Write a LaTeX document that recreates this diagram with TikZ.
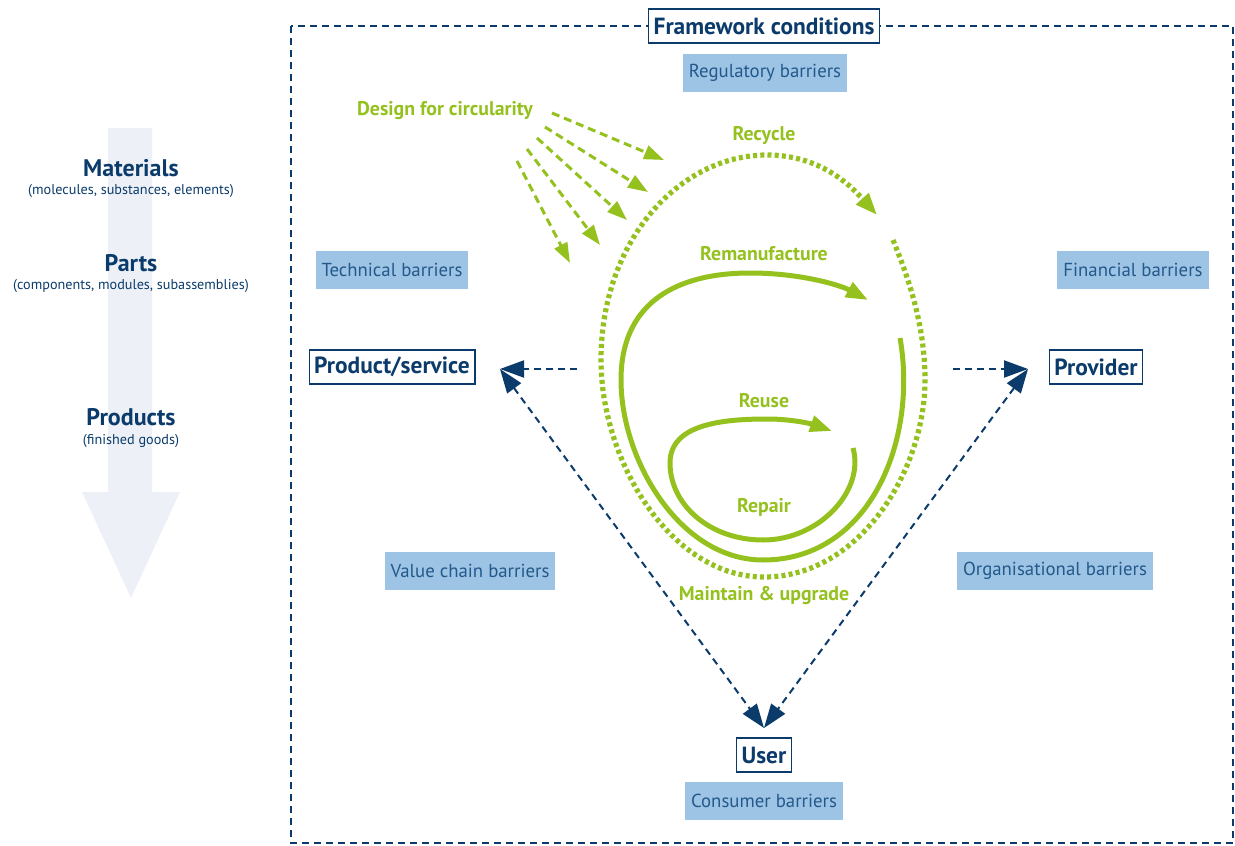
\documentclass[tikz,border=0pt]{standalone}
\usepackage{fontspec}
\setmainfont{PT Sans}
\usetikzlibrary{arrows.meta}
\definecolor{navy}{HTML}{0B3B6B}
\definecolor{barriertext}{HTML}{23598A}
\definecolor{barrierfill}{HTML}{9EC4E5}
\definecolor{leaf}{HTML}{95C11F}
\definecolor{mist}{HTML}{EDF1F7}
\tikzset{
  actor/.style={draw=navy, line width=0.7pt, fill=white, text=navy, inner xsep=2.5pt, minimum height=17pt, font=\bfseries\fontsize{11.7}{13}\selectfont},
  barrier/.style={fill=barrierfill, text=barriertext, inner xsep=3pt, minimum height=19pt, font=\fontsize{9.4}{11}\selectfont},
  level/.style={text=navy, align=center, inner sep=0pt, font=\bfseries\fontsize{12}{14}\selectfont},
  sublevel/.style={text=navy, inner sep=0pt, font=\fontsize{7.1}{8}\selectfont},
  looplabel/.style={text=leaf, inner sep=0pt, font=\bfseries\fontsize{9.9}{11}\selectfont},
  loopline/.style={draw=leaf, line width=2.5pt, -{Triangle[length=11pt,width=8pt]}},
  relation/.style={draw=navy, line width=1pt, dash pattern=on 3.5pt off 2.5pt},
  navytip/.tip={Triangle[length=12pt,width=8.5pt]},
}
\begin{document}
\begin{tikzpicture}[x=0.5pt, y=-0.5pt]
\useasboundingbox (0,0) rectangle (1235,845);

% levels arrow
\fill[mist] (108,128) -- (152,128) -- (152,492) -- (180,492) -- (131,598) -- (82,492) -- (108,492) -- cycle; % levels
\node[level] (materials) at (131,168) {Materials};
\node[sublevel] (materials-sub) at (131,191) {(molecules, substances, elements)};
\node[level] (parts) at (131,263) {Parts};
\node[sublevel] (parts-sub) at (131,286) {(components, modules, subassemblies)};
\node[level] (products) at (131,417) {Products};
\node[sublevel] (products-sub) at (131,441) {(finished goods)};

% framework
\draw[relation, line width=1.1pt] (291,26) rectangle (1233,843); % frame
\node[actor] (framework) at (764,26) {Framework conditions};

% barriers
\node[barrier] (regulatory) at (765,73) {Regulatory barriers};
\node[barrier] (technical) at (392,270) {Technical barriers};
\node[barrier] (financial) at (1133,270) {Financial barriers};
\node[barrier] (valuechain) at (470,571) {Value chain barriers};
\node[barrier] (organisational) at (1055,571) {Organisational barriers};
\node[barrier] (consumer) at (764,801) {Consumer barriers};

% actors
\node[actor] (product) at (392,367) {Product/service};
\node[actor] (provider) at (1096,367) {Provider};
\node[actor] (user) at (764,755) {User};

\coordinate (product-in) at (500,369);
\coordinate (provider-in) at (1028,369);
\coordinate (user-in) at (764,728);
\coordinate (product-out) at (577,369);
\coordinate (provider-out) at (953,369);

\draw[relation, -navytip] (product-out) -- (product-in); % to product
\draw[relation, -navytip] (provider-out) -- (provider-in); % to provider
\draw[relation, navytip-navytip] (product-in) -- (user-in); % product user
\draw[relation, navytip-navytip] (provider-in) -- (user-in); % provider user

% loops
\draw[loopline, line width=2.6pt, dash pattern=on 2pt off 1.6pt] (893,240) .. controls (905,270) and (925,320) .. (925,380)
  .. controls (925,470) and (860,577) .. (764,577)
  .. controls (670,577) and (601,460) .. (601,360)
  .. controls (601,240) and (680,155) .. (767,155)
  .. controls (820,155) and (850,185) .. (877,215); % recycle
\draw[loopline] (900,338) .. controls (918,440) and (870,560) .. (763,560)
  .. controls (680,560) and (621,460) .. (621,380)
  .. controls (621,300) and (680,273) .. (750,273)
  .. controls (800,273) and (840,285) .. (868,300); % remanufacture
\draw[loopline] (853,448) .. controls (865,490) and (820,540) .. (763,540)
  .. controls (710,540) and (670,505) .. (670,463)
  .. controls (670,425) and (720,419) .. (767,419)
  .. controls (795,419) and (815,425) .. (832,431); % reuse

\node[looplabel] (recycle) at (764,136) {Recycle};
\node[looplabel] (remanufacture) at (764,254) {Remanufacture};
\node[looplabel] (reuse) at (764,401) {Reuse};
\node[looplabel] (repair) at (764,507) {Repair};
\node[looplabel] (maintain) at (764,596) {Maintain \& upgrade};

% design for circularity
\node[looplabel] (design) at (445,111) {Design for circularity};
\foreach \sx/\sy/\tx/\ty in {552/113/664/160, 545/127/648/192, 537/138/627/220, 527/149/600/245, 517/161/570/263}
  \draw[leaf, line width=1.5pt, dash pattern=on 4pt off 2.5pt, -{Triangle[length=10pt,width=7pt]}] (\sx,\sy) -- (\tx,\ty);

\end{tikzpicture}
\end{document}
